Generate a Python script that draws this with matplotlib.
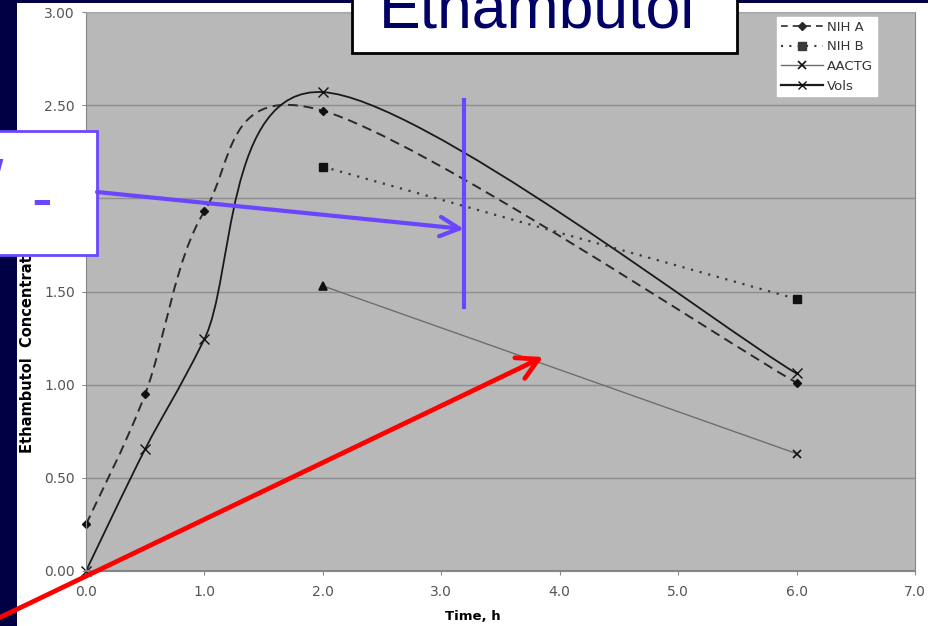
import numpy as np
import matplotlib
matplotlib.use("Agg")
import matplotlib.pyplot as plt
from matplotlib.path import Path
from matplotlib.patches import PathPatch, Rectangle, FancyArrowPatch
from matplotlib.lines import Line2D

# values
nih_a_t = [0.0, 0.5, 1.0, 2.0, 6.0]
nih_a_c = [0.25, 0.95, 1.93, 2.47, 1.01]
nih_b_t = [2.0, 6.0]
nih_b_c = [2.17, 1.46]
aactg_t = [2.0, 6.0]
aactg_c = [1.53, 0.63]
aactg_mk = ['^', 'x']
vols_t = [0.0, 0.5, 1.0, 2.0, 6.0]
vols_c = [0.0, 0.655, 1.245, 2.57, 1.06]

xticks = [0, 1, 2, 3, 4, 5, 6, 7]
yticks = [0, 0.5, 1.0, 1.5, 2.0, 2.5, 3.0]

W, H = 938, 626
navy = '#020044'
blue = '#6b46ff'


def px(x, y):
    # slide pixel (from top-left) -> figure fraction
    return (x / W, 1 - y / H)


def smooth(x, y):
    # excel-like smoothed line drawn as cubic bezier segments
    p = np.column_stack([x, y])
    n = len(p)
    verts, codes = [p[0]], [Path.MOVETO]
    for i in range(n - 1):
        p0, p1, p2, p3 = p[max(i - 1, 0)], p[i], p[i + 1], p[min(i + 2, n - 1)]
        verts += [p1 + (p2 - p0) / 6, p2 - (p3 - p1) / 6, p2]
        codes += [Path.CURVE4] * 3
    return Path(verts, codes)


fig = plt.figure(figsize=(W / 100, H / 100), dpi=100)
fig.patch.set_facecolor('white')
fig.add_artist(Rectangle(px(0, H), 17 / W, 1, transform=fig.transFigure,
                         fc=navy, ec='none', zorder=0))
fig.add_artist(Rectangle(px(0, 3), 928 / W, 3 / H, transform=fig.transFigure,
                         fc=navy, ec='none', zorder=0))

ax = fig.add_axes([86 / W, 55 / H, 829 / W, 559 / H])
ax.set_facecolor('#b8b8b8')
ax.set_xlim(0, 7)
ax.set_ylim(0, 3)
ax.set_xticks(xticks)
ax.set_xticklabels(['%.1f' % v for v in xticks])
ax.set_yticks(yticks)
ax.set_yticklabels(['%.2f' % v for v in yticks])
ax.grid(axis='y', color='#8e8e8e', lw=1)
ax.set_axisbelow(True)
for side in ['left', 'bottom', 'right']:
    ax.spines[side].set_color('#858585')
ax.spines['top'].set_color('#a8a8a8')
ax.spines['bottom'].set_linewidth(1.5)
ax.tick_params(axis='both', colors='#8a8a8a', labelcolor='#555555',
               labelsize=10, length=3)
ax.tick_params(axis='x', pad=7)
ax.tick_params(axis='y', pad=5)

ax.add_patch(PathPatch(smooth(nih_a_t, nih_a_c), fill=False, ec='#2a2a2a',
                       lw=1.4, ls=(0, (5, 3))))
ax.add_patch(PathPatch(smooth(vols_t, vols_c), fill=False, ec='#1a1a1a', lw=1.3))
ax.plot(nih_b_t, nih_b_c, color='#3a3a3a', lw=1.6, ls=(0, (1, 3)))
ax.plot(aactg_t, aactg_c, color='#6e6e6e', lw=1.0)

ax.plot(nih_a_t, nih_a_c, ls='none', marker='D', ms=4.5, color='#111111', clip_on=False)
ax.plot(nih_b_t, nih_b_c, ls='none', marker='s', ms=6, color='#111111', clip_on=False)
for t, c, m in zip(aactg_t, aactg_c, aactg_mk):
    ax.plot(t, c, ls='none', marker=m, ms=6, color='#111111', mew=1.2)
ax.plot(vols_t, vols_c, ls='none', marker='x', ms=7, color='#111111', mew=1.0,
        clip_on=False)

handles = [
    Line2D([], [], color='#2a2a2a', lw=1.2, ls=(0, (4, 3)), marker='D', ms=4.5),
    Line2D([], [], color='#3a3a3a', lw=1.5, ls=(0, (1, 3)), marker='s', ms=6),
    Line2D([], [], color='#6e6e6e', lw=1.0, marker='x', ms=6, mec='#111111', mew=1.2),
    Line2D([], [], color='#1a1a1a', lw=1.6, marker='x', ms=6, mec='#111111'),
]
leg = ax.legend(handles, ['NIH A', 'NIH B', 'AACTG', 'Vols'], loc='upper left',
                bbox_to_anchor=(0.8335, 0.991), fontsize=9.5, frameon=True,
                fancybox=False, framealpha=1, edgecolor='white',
                handlelength=3.2, handletextpad=0.3, labelspacing=0.5,
                borderpad=0.28, borderaxespad=0)
for txt in leg.get_texts():
    txt.set_color('#333333')

ax.set_xlabel('Time, h', fontsize=9.5, fontweight='bold')
ax.xaxis.set_label_coords(0.467, -0.07)
ax.text(-0.07, (571 - 453) / 559, 'Ethambutol  Concentration, mcg/mL',
        transform=ax.transAxes, rotation=90, ha='center', va='bottom',
        fontsize=10.5, fontweight='bold')

# slide overlays: title box, callout box, arrows
fig.add_artist(Rectangle(px(352, 53), (737 - 352) / W, 70 / H, transform=fig.transFigure,
                         fc='white', ec='black', lw=2, zorder=5))
fig.text(*px(537, 28), 'Ethambutol', ha='center', va='baseline', fontsize=45,
         family='Liberation Sans', color='#000066', zorder=6)

fig.add_artist(Rectangle(px(-5, 255), 102 / W, 124 / H, transform=fig.transFigure,
                         fc='white', ec=blue, lw=2, zorder=5))
fig.text(*px(41.5, 219), '-', ha='center', va='baseline', fontsize=45,
         family='Liberation Sans', color=blue, zorder=6)
fig.text(*px(3, 158), '/', ha='right', va='top', fontsize=45,
         family='Liberation Sans', color=blue, zorder=6)

fig.add_artist(FancyArrowPatch(px(97, 192), px(464, 229), transform=fig.transFigure,
                               arrowstyle='->,head_length=1.0,head_width=0.5',
                               mutation_scale=14, color=blue, lw=3,
                               shrinkA=0, shrinkB=0, zorder=7))
fig.add_artist(Line2D([464 / W, 464 / W], [1 - 100 / H, 1 - 307 / H],
                      transform=fig.transFigure, color=blue, lw=3, zorder=7))
fig.add_artist(FancyArrowPatch(px(-20, 627), px(543, 357), transform=fig.transFigure,
                               arrowstyle='->,head_length=1.0,head_width=0.55',
                               mutation_scale=15, color='#ff0000', lw=3.4,
                               shrinkA=0, shrinkB=0, zorder=7))

fig.savefig('out.png', dpi=100)
